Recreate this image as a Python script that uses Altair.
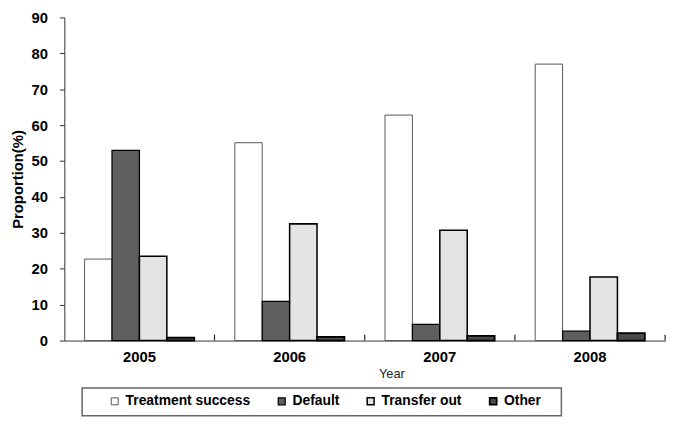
import altair as alt
import pandas as pd

years = ["2005", "2006", "2007", "2008"]
series = ["Treatment success", "Default", "Transfer out", "Other"]
treatment = [22.7, 55.1, 62.8, 77.0]
default = [53.0, 10.9, 4.5, 2.6]
transfer = [23.5, 32.5, 30.7, 17.7]
other = [0.8, 1.0, 1.3, 2.1]

rows = []
for i, y in enumerate(years):
    for s, vals in zip(series, [treatment, default, transfer, other]):
        rows.append({"year": y, "series": s, "value": vals[i]})
df = pd.DataFrame(rows)

FONT = "Liberation Sans"

fills = ["#ffffff", "#5e5e5e", "#e4e4e4", "#4a4a4a"]
strokes = ["#555555", "#000000", "#000000", "#000000"]

xscale = alt.Scale(paddingInner=0.27, paddingOuter=0.135)

bars = alt.Chart(df).mark_bar().encode(
    x=alt.X("year:N", sort=years, scale=xscale,
            axis=alt.Axis(title="Year", labelAngle=0, labelFont=FONT, labelFontSize=15,
                          labelFontWeight="bold", labelColor="#000", labelPadding=9,
                          ticks=False,
                          titleFont=FONT, titleFontSize=13, titleFontWeight="normal",
                          titleColor="#222", titleX=331, titleY=27)),
    xOffset=alt.XOffset("series:N", sort=series,
                        scale=alt.Scale(paddingInner=0, paddingOuter=0)),
    y=alt.Y("value:Q", scale=alt.Scale(domain=[0, 90], nice=False),
            axis=alt.Axis(title="Proportion(%)", values=list(range(0, 91, 10)), grid=False,
                          labelFont=FONT, labelFontSize=15, labelFontWeight="bold",
                          labelColor="#000", labelPadding=12, tickSize=5,
                          titleFont=FONT, titleFontSize=15, titleFontWeight="bold",
                          titleColor="#000", titlePadding=6)),
    fill=alt.Fill("series:N", sort=series,
                  scale=alt.Scale(domain=series, range=fills),
                  legend=alt.Legend(orient="none", legendX=44, legendY=381,
                                    direction="horizontal", title=None,
                                    columnPadding=24, labelOffset=4,
                                    symbolType="square", symbolSize=49,
                                    symbolStrokeColor="#000", symbolStrokeWidth=1,
                                    labelFont=FONT, labelFontSize=14,
                                    labelFontWeight="bold", labelColor="#000",
                                    labelLimit=300, padding=0)),
    stroke=alt.Stroke("series:N", scale=alt.Scale(domain=series, range=strokes), legend=None),
    strokeWidth=alt.StrokeWidth("series:N", scale=alt.Scale(domain=series, range=[1, 1.8, 1.8, 1.8]),
                                legend=None),
)

ticks = alt.Chart(pd.DataFrame({"year": years})).mark_rule(
    color="#222222", strokeWidth=1.2, xOffset=20.5
).encode(
    x=alt.X("year:N", sort=years, bandPosition=1),
    y=alt.value(321), y2=alt.value(327),
)

box = alt.Chart(pd.DataFrame({"a": [0]})).mark_rect(
    fill="white", stroke="#666666", strokeWidth=1.5
).encode(x=alt.value(18), x2=alt.value(503), y=alt.value(375), y2=alt.value(403))

chart = alt.layer(box, bars, ticks).properties(
    width=608, height=327,
    autosize=alt.AutoSizeParams(type="none"),
    padding={"left": 57, "top": 7, "right": 10, "bottom": 90},
).configure_view(stroke=None).configure_axis(
    domainColor="#333333", tickColor="#333333"
)

chart.save("out.html", embed_options={"renderer": "svg", "actions": False})
